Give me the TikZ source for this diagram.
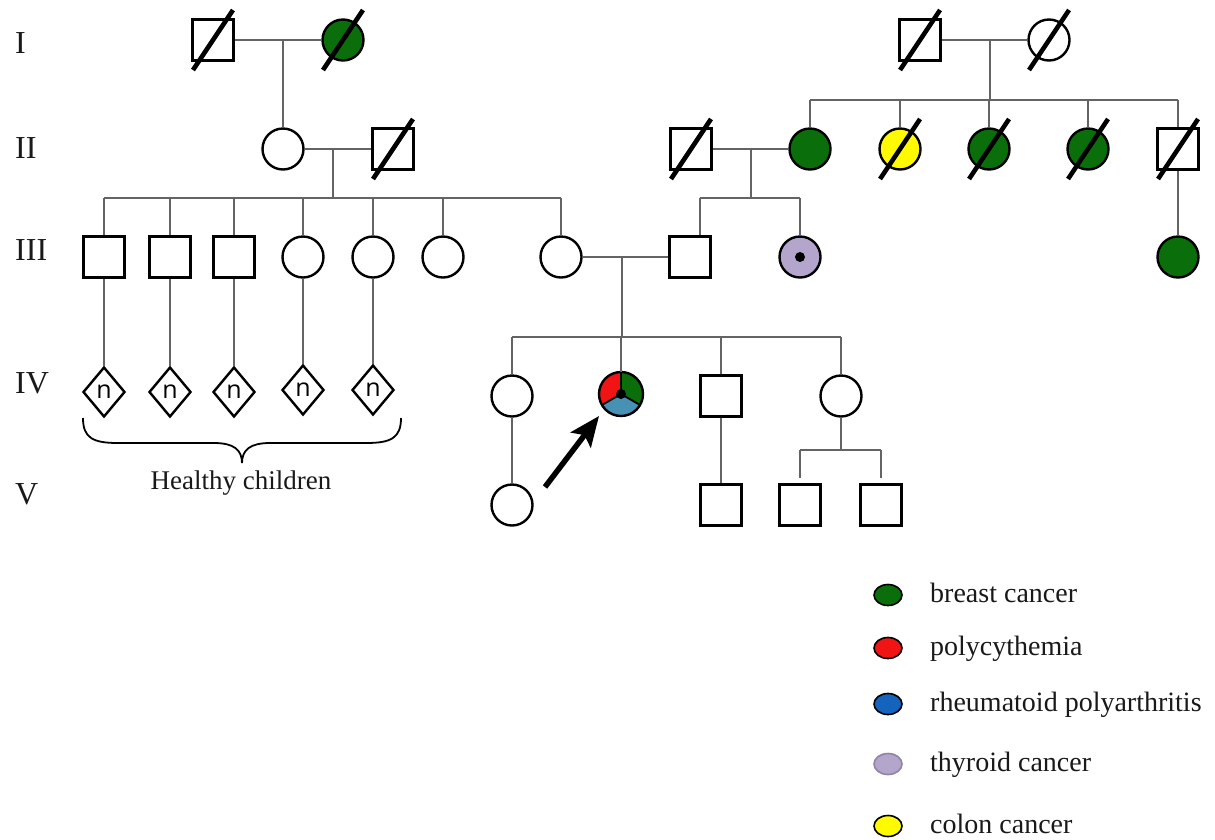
\documentclass[tikz,border=0pt]{standalone}
\usepackage{fontspec}
\setmainfont{Liberation Serif}
\newfontfamily\nfont{Open Sans}
\usetikzlibrary{arrows.meta,shapes.geometric}
\definecolor{bcgreen}{RGB}{10,110,10}
\definecolor{ccyellow}{RGB}{255,250,0}
\definecolor{pcred}{RGB}{240,20,20}
\definecolor{rpblue}{RGB}{20,100,190}
\definecolor{pbteal}{RGB}{70,145,180}
\definecolor{tclav}{RGB}{180,165,205}
\definecolor{txt}{RGB}{25,25,25}
\definecolor{lnk}{RGB}{100,100,100}
\tikzset{
  conn/.style={draw=lnk, line width=1.4},
  sym/.style={draw=black, line width=2.4, inner sep=0pt},
  male/.style={sym, rectangle, minimum size=41},
  female/.style={sym, circle, minimum size=41},
  dmd/.style={sym, diamond, minimum width=42, minimum height=50, font=\nfont\fontsize{25}{25}\selectfont},
  slash/.style={line width=4.6, draw=black},
  genlab/.style={anchor=base west, inner sep=0pt, text=txt, font=\fontsize{32}{34}\selectfont},
  legtext/.style={anchor=base west, inner sep=0pt, text=txt, font=\fontsize{28}{30}\selectfont},
  legmark/.style={draw=black, line width=1.6, ellipse, minimum width=28, minimum height=21, inner sep=0pt},
}
\newcommand\deadmark[1]{\draw[slash] ([shift={(-20,30)}]#1.center) -- ([shift={(20,-30)}]#1.center);}
\begin{document}
\begin{tikzpicture}[x=1pt,y=-1pt]
\useasboundingbox[fill=white] (0,0) rectangle (1215,839);

% generation labels
\node[genlab] (gI) at (15,53) {I};
\node[genlab] (gII) at (15,158) {II};
\node[genlab] (gIII) at (15,260) {III};
\node[genlab] (gIV) at (15,393) {IV};
\node[genlab] (gV) at (15,504) {V};

% Generation I
\node[male] (I1) at (213,40) {};
\node[female, fill=bcgreen] (I2) at (343,40) {};
\node[male] (I3) at (920,40) {};
\node[female] (I4) at (1049,40) {};

% Generation II
\node[female] (II1) at (283,149) {};
\node[male] (II2) at (393,149) {};
\node[male] (II3) at (691,149) {};
\node[female, fill=bcgreen] (II4) at (810,149) {};
\node[female, fill=ccyellow] (II5) at (900,149) {};
\node[female, fill=bcgreen] (II6) at (989,149) {};
\node[female, fill=bcgreen] (II7) at (1088,149) {};
\node[male] (II8) at (1178,149) {};

% Generation III
\node[male] (III1) at (104,257) {};
\node[male] (III2) at (170,257) {};
\node[male] (III3) at (234,257) {};
\node[female] (III4) at (303,257) {};
\node[female] (III5) at (373,257) {};
\node[female] (III6) at (443,257) {};
\node[female] (III7) at (561,257) {};
\node[male] (III8) at (690,257) {};
\node[female, fill=tclav] (III9) at (800,257) {};
\node[female, fill=bcgreen] (III10) at (1178,257) {};
\fill[black] (III9.center) circle[radius=5];

% Generation IV
\node[dmd] (d1) at (104,392) {n};
\node[dmd] (d2) at (170,392) {n};
\node[dmd] (d3) at (234,392) {n};
\node[dmd] (d4) at (303,390) {n};
\node[dmd] (d5) at (373,390) {n};
\node[female] (IV1) at (512,396) {};
\node[circle, minimum size=44, inner sep=0pt] (P) at (621,394) {};
\node[male] (IV3) at (721,396) {};
\node[female] (IV4) at (841,396) {};

% Generation V
\node[female] (V1) at (512,505) {};
\node[male] (V2) at (721,505) {};
\node[male] (V3) at (800,505) {};
\node[male] (V4) at (881,505) {};

% proband symbol
\begin{scope}[shift={(P.center)}, x=1pt, y=1pt]
  \fill[pcred] (0,0) -- (90:22) arc[start angle=90, end angle=210, radius=22] -- cycle;
  \fill[bcgreen] (0,0) -- (-30:22) arc[start angle=-30, end angle=90, radius=22] -- cycle;
  \fill[pbteal] (0,0) -- (210:22) arc[start angle=210, end angle=330, radius=22] -- cycle;
  \draw[line width=1.8] (90:22) -- (0,0) -- (210:22) (0,0) -- (330:22);
  \fill[black] (0,0) circle[radius=5];
  \draw[line width=2.4] (0,0) circle[radius=22];
\end{scope}

% deceased marks
\deadmark{I1}\deadmark{I2}\deadmark{I3}\deadmark{I4}
\deadmark{II2}\deadmark{II3}\deadmark{II5}\deadmark{II6}\deadmark{II7}\deadmark{II8}

% coordinates
\coordinate (mI1) at (283,40);
\coordinate (mI2) at (990,40);
\coordinate (bII) at (990,100);
\coordinate (mII1) at (333,149);
\coordinate (bIIIa) at (333,198);
\coordinate (mII2) at (751,149);
\coordinate (bIIIb) at (751,198);
\coordinate (mIII) at (622,257);
\coordinate (bIV) at (622,337);
\coordinate (bV) at (841,450);
\coordinate (arrS) at (545,487);
\coordinate (arrT) at (599,416);

% connectors generation I -> II
\draw[conn] (I1) -- (I2);
\draw[conn] (mI1) -- (II1);
\draw[conn] (I3) -- (I4);
\draw[conn] (mI2) -- (bII);
\draw[conn] (II4.north |- bII) -- (II8.north |- bII);
\foreach \c in {II4,II5,II6,II7,II8} \draw[conn] (\c.north) -- (\c.north |- bII);

% II -> III
\draw[conn] (II1) -- (II2);
\draw[conn] (mII1) -- (bIIIa);
\draw[conn] (III1.north |- bIIIa) -- (III7.north |- bIIIa);
\foreach \c in {III1,III2,III3,III4,III5,III6,III7} \draw[conn] (\c.north) -- (\c.north |- bIIIa);
\draw[conn] (II3) -- (II4);
\draw[conn] (mII2) -- (bIIIb);
\draw[conn] ([xshift=10pt]III8.north |- bIIIb) -- (III9.north |- bIIIb);
\draw[conn] ([xshift=10pt]III8.north) -- ([xshift=10pt]III8.north |- bIIIb);
\draw[conn] (III9.north) -- (III9.north |- bIIIb);
\draw[conn] (II8) -- (III10);

% III -> IV
\foreach \a/\b in {III1/d1,III2/d2,III3/d3,III4/d4,III5/d5} \draw[conn] (\a) -- (\b);
\draw[conn] (III7) -- (III8);
\draw[conn] (mIII) -- (bIV);
\draw[conn] (IV1.north |- bIV) -- (IV4.north |- bIV);
\foreach \c in {IV1,P,IV3,IV4} \draw[conn] (\c.north) -- (\c.north |- bIV);

% IV -> V
\draw[conn] (IV1) -- (V1);
\draw[conn] (IV3) -- (V2);
\draw[conn] (IV4) -- (bV);
\draw[conn] (V3.north |- bV) -- (V4.north |- bV);
\draw[conn] (V3.north |- bV) -- ([yshift=5pt]V3.north);
\draw[conn] (V4.north |- bV) -- ([yshift=5pt]V4.north);

% proband arrow
\draw[line width=5.5, -{Stealth[length=30pt, width=25pt, inset=6pt]}] (arrS) -- (arrT);

% brace and label
\coordinate (brL) at (83,418);
\coordinate (brR) at (401,418);
\coordinate (brM) at (242,463);
\draw[line width=1.8, black] (brL) .. controls (83,438) and (93,443) .. (118,443) -- (214,443)
  .. controls (234,443) and (242,450) .. (brM) .. controls (242,450) and (250,443) .. (270,443)
  -- (366,443) .. controls (391,443) and (401,438) .. (brR);
\node[anchor=base, inner sep=0pt, text=txt, font=\fontsize{27}{29}\selectfont] (hc) at (241,489) {Healthy children};

% legend
\node[legmark, fill=bcgreen] (L1) at (888,595) {};
\node[legmark, fill=pcred] (L2) at (888,648) {};
\node[legmark, fill=rpblue] (L3) at (888,704) {};
\node[legmark, fill=tclav, draw=tclav!80!black] (L4) at (888,764) {};
\node[legmark, fill=ccyellow] (L5) at (888,826) {};
\node[legtext] (T1) at (930,602) {breast cancer};
\node[legtext] (T2) at (930,655) {polycythemia};
\node[legtext] (T3) at (930,711) {rheumatoid polyarthritis};
\node[legtext] (T4) at (930,771) {thyroid cancer};
\node[legtext] (T5) at (930,833) {colon cancer};
\end{tikzpicture}
\end{document}
